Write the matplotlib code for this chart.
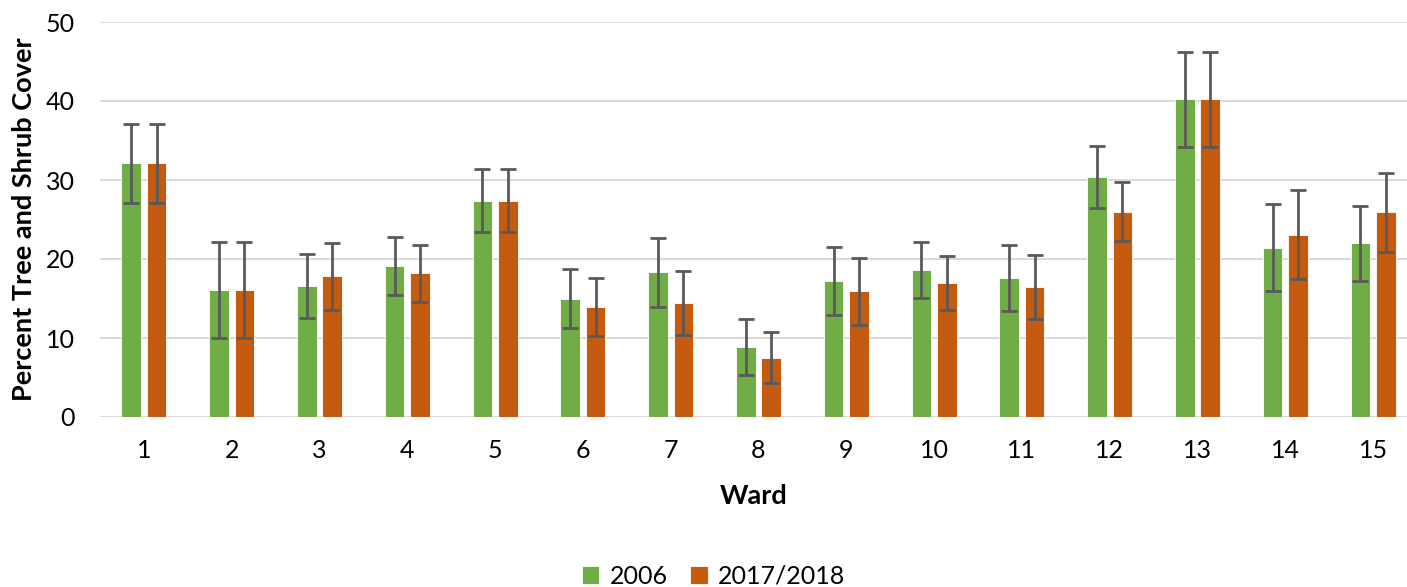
import numpy as np
import matplotlib
matplotlib.use("Agg")
from matplotlib import pyplot as plt

wards = [str(i) for i in range(1, 16)]
cover_2006 = [32.1, 16.1, 16.6, 19.1, 27.4, 15.0, 18.3, 8.9, 17.2, 18.6, 17.6, 30.4, 40.2, 21.4, 22.0]
cover_2017 = [32.1, 16.1, 17.8, 18.2, 27.4, 13.9, 14.4, 7.5, 15.9, 17.0, 16.4, 26.0, 40.2, 23.1, 25.9]
err_2006 = [5.0, 6.1, 4.05, 3.7, 4.0, 3.7, 4.4, 3.55, 4.3, 3.55, 4.15, 3.9, 6.0, 5.5, 4.75]
err_2017 = [5.0, 6.1, 4.2, 3.6, 4.0, 3.65, 4.05, 3.25, 4.25, 3.4, 4.05, 3.75, 6.0, 5.6, 5.0]

plt.rcParams["font.family"] = ["Lato", "DejaVu Sans"]

fig = plt.figure(figsize=(14.07, 5.87), dpi=100)
ax = fig.add_axes([100 / 1407, 1 - 417 / 587, 1 - 100 / 1407, 395 / 587])

x = np.arange(1, len(wards) + 1)
w = 0.222
off = 0.145
ekw = dict(ecolor="#595959", elinewidth=2, capsize=6, capthick=2)

ax.bar(x - off, cover_2006, w, color="#70AD47", edgecolor="white", linewidth=0.6,
       yerr=err_2006, error_kw=ekw, label="2006", zorder=3)
ax.bar(x + off, cover_2017, w, color="#C55A11", edgecolor="white", linewidth=0.6,
       yerr=err_2017, error_kw=ekw, label="2017/2018", zorder=3)

ax.set_xlim(0.5, 0.5 + 1307 / 87.8)
ax.set_ylim(0, 50)
ax.set_yticks(range(0, 51, 10))
ax.set_xticks(x)
ax.set_xticklabels(wards)
ax.yaxis.grid(True, color="#d9d9d9", linewidth=1.4, zorder=0)
ax.set_axisbelow(True)
for s in ax.spines.values():
    s.set_visible(False)
ax.tick_params(axis="both", length=0, labelsize=18, colors="#000000")
ax.tick_params(axis="x", pad=16)
ax.tick_params(axis="y", pad=18)

ax.set_ylabel("Percent Tree and Shrub Cover", fontsize=19.5, fontweight="bold", labelpad=7)
ax.set_xlabel("Ward", fontsize=19.5, fontweight="bold", labelpad=16)

fig.legend(loc="lower center", bbox_to_anchor=(0.507, -0.04), ncol=2, frameon=False,
           fontsize=18, handlelength=0.7, handleheight=0.7, handletextpad=0.4, columnspacing=0.9)

fig.savefig("out.png", dpi=100)
